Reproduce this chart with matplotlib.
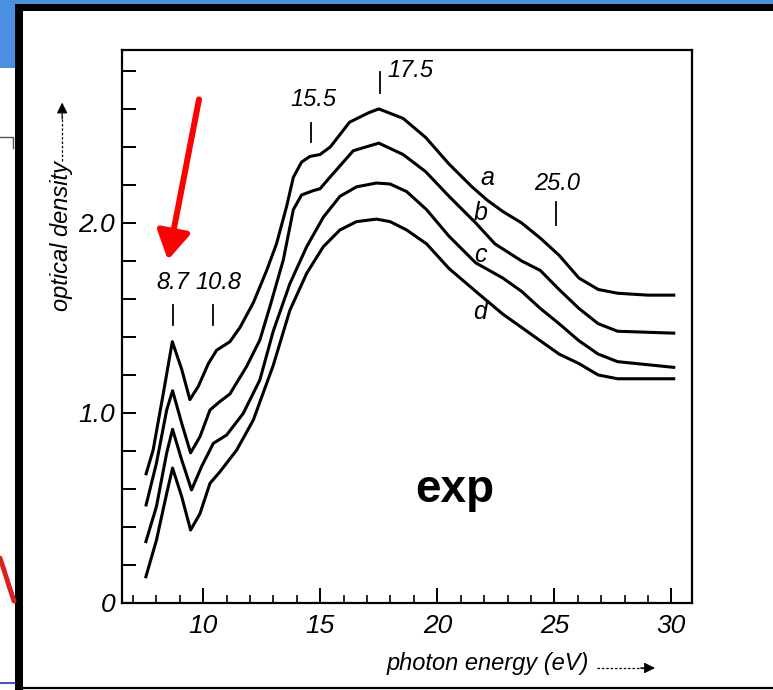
import numpy as np
import matplotlib
matplotlib.use('Agg')
import matplotlib.pyplot as plt
from matplotlib.patches import Rectangle

# curves (photon energy in eV, optical density)
xa = [7.56, 7.86, 8.29, 8.68, 9.08, 9.43, 9.79, 10.22, 10.57, 11.14, 11.57, 12.14, 12.71, 13.13,
      13.56, 13.85, 14.2, 14.56, 14.99, 15.43, 16.25, 17.07, 17.5, 18.54, 19.5, 20.5, 21.48, 22.13,
      22.8, 23.6, 24.4, 25.2, 26.05, 26.87, 27.7, 29.0, 30.1]
ya = [0.68, 0.805, 1.10, 1.375, 1.23, 1.07, 1.14, 1.26, 1.33, 1.375, 1.45, 1.58, 1.75, 1.89,
      2.086, 2.24, 2.32, 2.35, 2.36, 2.40, 2.53, 2.58, 2.60, 2.55, 2.45, 2.31, 2.19, 2.12,
      2.06, 2.0, 1.92, 1.83, 1.71, 1.65, 1.63, 1.62, 1.62]
xb = [7.56, 8.0, 8.44, 8.69, 9.08, 9.46, 9.86, 10.29, 10.71, 11.14, 11.85, 12.42, 12.85, 13.42,
      13.85, 14.2, 14.7, 14.99, 15.41, 16.41, 17.5, 18.54, 19.5, 20.5, 21.64, 22.46, 23.6, 24.4,
      25.2, 26.05, 26.87, 27.7, 30.1]
yb = [0.516, 0.735, 1.016, 1.117, 0.946, 0.79, 0.875, 1.016, 1.06, 1.10, 1.244, 1.384, 1.56, 1.805,
      2.07, 2.147, 2.17, 2.18, 2.24, 2.38, 2.42, 2.36, 2.27, 2.14, 2.0, 1.89, 1.80, 1.75,
      1.65, 1.55, 1.47, 1.43, 1.42]
xc = [7.55, 8.0, 8.44, 8.69, 9.08, 9.50, 9.93, 10.43, 11.0, 11.71, 12.42, 12.99, 13.7, 14.42,
      15.13, 15.84, 16.55, 17.4, 17.98, 18.69, 19.54, 20.5, 21.64, 22.8, 23.6, 24.4, 25.2, 26.05,
      26.87, 27.7, 30.1]
yc = [0.323, 0.507, 0.79, 0.914, 0.753, 0.595, 0.718, 0.84, 0.884, 0.998, 1.174, 1.43, 1.68, 1.875,
      2.03, 2.14, 2.19, 2.21, 2.205, 2.165, 2.07, 1.93, 1.79, 1.71, 1.64, 1.55, 1.47, 1.38,
      1.31, 1.27, 1.24]
xd = [7.55, 8.0, 8.44, 8.69, 9.08, 9.46, 9.86, 10.29, 10.71, 11.43, 12.14, 12.99, 13.7, 14.42,
      15.13, 15.84, 16.55, 17.4, 17.98, 18.69, 19.54, 20.5, 21.64, 22.8, 23.6, 24.4, 25.2, 26.05,
      26.87, 27.7, 30.1]
yd = [0.138, 0.33, 0.577, 0.71, 0.56, 0.384, 0.47, 0.63, 0.69, 0.805, 0.963, 1.25, 1.54, 1.735,
      1.875, 1.963, 2.007, 2.02, 2.007, 1.963, 1.89, 1.76, 1.64, 1.52, 1.45, 1.38, 1.31, 1.26,
      1.20, 1.18, 1.18]

curve_names = ['a', 'b', 'c', 'd']
curve_label_x = [22.12, 21.83, 21.83, 21.83]
curve_label_y = [2.237, 2.05, 1.83, 1.53]

# marked features: label, tick x, label x, label y, tick top, tick bottom
peak_labels = ['8.7', '10.8', '15.5', '25.0']
peak_tick_x = [8.71, 10.42, 14.59, 25.05]
peak_text_x = [8.71, 10.65, 14.7, 25.1]
peak_text_y = [1.684, 1.684, 2.65, 2.205]
peak_tick_top = [1.568, 1.568, 2.526, 2.11]
peak_tick_bot = [1.463, 1.463, 2.426, 1.99]

xticks_major = [10, 15, 20, 25, 30]
xtick_labels = ['10', '15', '20', '25', '30']
xticks_minor = list(range(7, 31))
yticks = [0, 0.2, 0.4, 0.6, 0.8, 1.0, 1.2, 1.4, 1.6, 1.8, 2.0, 2.2, 2.4, 2.6, 2.8]
ytick_labels = ['0', '', '', '', '', '1.0', '', '', '', '', '2.0', '', '', '', '']

sans = ['Liberation Sans', 'DejaVu Sans']

fig = plt.figure(figsize=(7.73, 6.90), dpi=100)

# slide frame around the scan (pixel coordinates)
bg = fig.add_axes([0, 0, 1, 1])
bg.set_xlim(0, 773)
bg.set_ylim(690, 0)
bg.axis('off')
bg.add_patch(Rectangle((0, 0), 773, 3.5, color='#4a8fe0', lw=0))
bg.add_patch(Rectangle((0, 0), 15, 68, color='#4a8fe0', lw=0))
bg.add_patch(Rectangle((15, 3.5), 758, 7, color='black', lw=0))
bg.add_patch(Rectangle((15, 3.5), 7.5, 690, color='black', lw=0))
bg.plot([22, 773], [687.5, 687.5], color='black', lw=1.6)
bg.plot([0, 13, 13], [137, 137, 148], color='#555555', lw=1.0)
bg.plot([0, 4, 9, 14], [558, 570, 586, 601], color='#dd2020', lw=3.5, solid_capstyle='round')
bg.plot([0, 15], [683, 683], color='#2030c0', lw=1.2)

ax = fig.add_axes([122 / 773, 87 / 690, 570 / 773, 553 / 690])
for xs, ys in [(xa, ya), (xb, yb), (xc, yc), (xd, yd)]:
    ax.plot(xs, ys, color='black', lw=2.2, solid_joinstyle='round')

ax.set_xlim(6.53, 30.88)
ax.set_ylim(0, 2.91)

ax.set_xticks(xticks_major)
ax.set_xticklabels(xtick_labels)
ax.set_xticks(xticks_minor, minor=True)
ax.set_yticks(yticks)
ax.set_yticklabels(ytick_labels)
ax.tick_params(axis='x', which='major', direction='in', length=11, width=1.4, pad=8)
ax.tick_params(axis='x', which='minor', direction='in', length=6, width=1.2)
ax.tick_params(axis='y', which='major', direction='in', length=10, width=1.4, pad=5)
for lab in ax.get_xticklabels() + ax.get_yticklabels():
    lab.set_family(sans)
    lab.set_style('italic')
    lab.set_fontsize(19)
for sp in ax.spines.values():
    sp.set_linewidth(1.6)

ax.set_xlabel('photon energy (eV)', family=sans, style='italic', fontsize=17)
ax.xaxis.set_label_coords(0.642, -0.088)
ax.set_ylabel('optical density', family=sans, style='italic', fontsize=17)
ax.yaxis.set_label_coords(-0.086, 0.664)

# dashed arrows next to the axis titles
ax.plot([0.833, 0.915], [-0.1175, -0.1175], transform=ax.transAxes, clip_on=False,
        color='black', lw=0.9, ls=(0, (2, 1.5)))
ax.annotate('', xy=(0.94, -0.1175), xytext=(0.905, -0.1175), xycoords='axes fraction',
            arrowprops=dict(arrowstyle='-|>', color='black', lw=0.9, mutation_scale=16))
ax.plot([-0.105, -0.105], [0.80, 0.88], transform=ax.transAxes, clip_on=False,
        color='black', lw=0.9, ls=(0, (2, 1.5)))
ax.annotate('', xy=(-0.105, 0.91), xytext=(-0.105, 0.87), xycoords='axes fraction',
            arrowprops=dict(arrowstyle='-|>', color='black', lw=0.9, mutation_scale=16))

for lab, tx, lx, ly, t0, t1 in zip(peak_labels, peak_tick_x, peak_text_x, peak_text_y,
                                    peak_tick_top, peak_tick_bot):
    ax.text(lx, ly, lab, family=sans, style='italic', fontsize=17, ha='center', va='center')
    ax.plot([tx, tx], [t0, t1], color='black', lw=1.3)

ax.text(17.85, 2.80, '17.5', family=sans, style='italic', fontsize=17, ha='left', va='center')
ax.plot([17.55, 17.55], [2.795, 2.684], color='black', lw=1.3)

for name, lx, ly in zip(curve_names, curve_label_x, curve_label_y):
    ax.text(lx, ly, name, family=sans, style='italic', fontsize=18, ha='center', va='center')

ax.text(20.76, 0.595, 'exp', family=sans, fontweight='bold',
        fontsize=33, ha='center', va='center')

ax.annotate('', xy=(8.49, 1.805), xytext=(9.82, 2.65),
            arrowprops=dict(arrowstyle='-|>,head_length=0.85,head_width=0.5', color='red',
                            lw=4.3, mutation_scale=20, shrinkA=0, shrinkB=0))

fig.savefig('out.png', dpi=100)
